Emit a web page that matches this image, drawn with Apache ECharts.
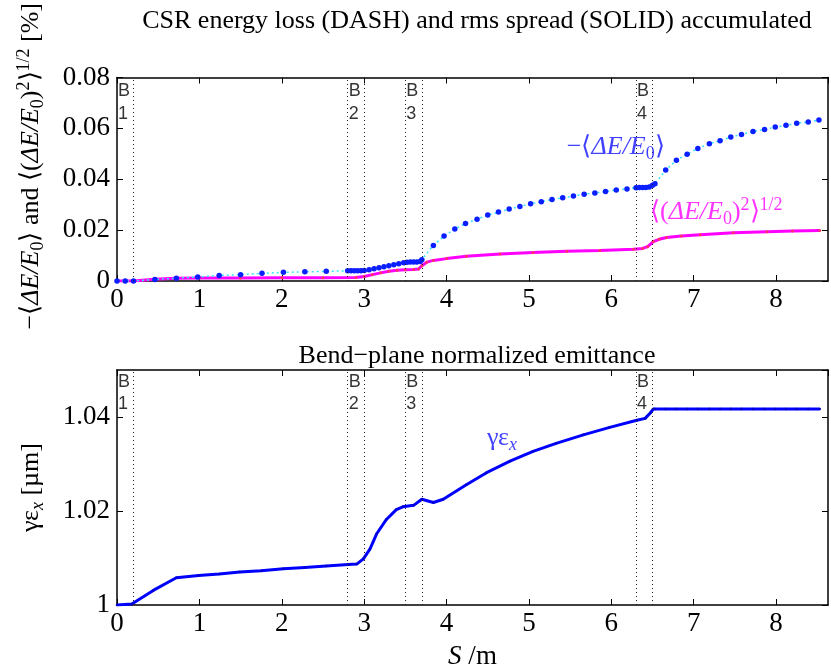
<!DOCTYPE html>
<html><head><meta charset="utf-8">
<script src="https://cdn.jsdelivr.net/npm/echarts@6/dist/echarts.min.js"></script>
<style>html,body{margin:0;padding:0;background:#fff}#c{width:831px;height:671px}</style>
</head><body><div id="c"></div>
<script>
// ---- data ----
const sLoss = [0,0.1,0.2,0.46,0.72,0.98,1.24,1.50,1.76,2.02,2.28,2.54,2.80,2.84,2.88,2.92,2.96,3.00,3.06,3.12,3.18,3.24,3.30,3.36,3.42,3.48,3.52,3.56,3.60,3.64,3.68,3.70,3.84,3.97,4.10,4.23,4.37,4.50,4.63,4.76,4.89,5.02,5.15,5.28,5.41,5.54,5.67,5.80,5.93,6.06,6.19,6.30,6.34,6.38,6.42,6.46,6.50,6.53,6.66,6.79,6.92,7.05,7.19,7.32,7.45,7.58,7.72,7.86,7.99,8.12,8.25,8.39,8.52];
const lossVals = [0,0,0,0.0006,0.0011,0.0016,0.0022,0.0025,0.0030,0.0034,0.0036,0.0038,0.0040,0.0040,0.0040,0.0040,0.0040,0.0041,0.0044,0.0048,0.0052,0.0056,0.0060,0.0064,0.0068,0.0072,0.0074,0.0075,0.0075,0.0075,0.0077,0.0084,0.0140,0.0177,0.0204,0.0226,0.0243,0.0259,0.0271,0.0283,0.0293,0.0304,0.0312,0.0320,0.0327,0.0334,0.0341,0.0346,0.0352,0.0358,0.0362,0.0367,0.0368,0.0368,0.0368,0.0370,0.0376,0.0382,0.0436,0.0475,0.0498,0.0521,0.0540,0.0551,0.0566,0.0576,0.0588,0.0596,0.0605,0.0612,0.0620,0.0625,0.0633];

const sRms = [0,0.2,0.45,0.72,1.0,1.5,2.0,2.5,2.9,3.0,3.1,3.2,3.3,3.4,3.5,3.6,3.66,3.70,3.76,3.84,4.0,4.24,4.65,5.05,5.46,5.86,6.27,6.38,6.44,6.51,6.58,6.67,6.85,7.08,7.48,7.89,8.2,8.53];
const rmsVals = [0,0,0.0007,0.0011,0.0012,0.0012,0.0013,0.0013,0.0014,0.0018,0.0025,0.0032,0.0038,0.0042,0.0044,0.0045,0.0047,0.0060,0.0074,0.0081,0.0088,0.0097,0.0106,0.0112,0.0117,0.0120,0.0125,0.0128,0.0135,0.0155,0.0164,0.0171,0.0177,0.0182,0.0190,0.0194,0.0197,0.0199];

const sEmit = [0,0.18,0.44,0.72,0.99,1.24,1.49,1.75,2.02,2.28,2.54,2.81,2.91,2.99,3.07,3.15,3.27,3.39,3.47,3.60,3.70,3.84,3.96,4.24,4.48,4.77,5.05,5.33,5.66,5.98,6.31,6.41,6.47,6.51,6.53,6.66,6.79,6.92,7.05,7.19,7.32,7.45,7.58,7.72,7.86,7.99,8.12,8.25,8.39,8.53];
const emitVals = [1.0000,1.0002,1.0031,1.0058,1.0063,1.0066,1.0070,1.0073,1.0077,1.0080,1.0083,1.0086,1.0087,1.0098,1.0119,1.0151,1.0182,1.0203,1.0209,1.0212,1.0225,1.0218,1.0225,1.0256,1.0281,1.0306,1.0327,1.0344,1.0362,1.0378,1.0393,1.0397,1.0408,1.0417,1.0417,1.0417,1.0417,1.0417,1.0417,1.0417,1.0417,1.0417,1.0417,1.0417,1.0417,1.0417,1.0417,1.0417,1.0417,1.0417];

const bendEdges = [0.2,2.8,3.0,3.5,3.7,6.3,6.5];
const bendStarts = [0,2.8,3.5,6.3];
const bendNames = ['1','2','3','4'];
const xTicks = [0,1,2,3,4,5,6,7,8];
const titles = ['CSR energy loss (DASH) and rms spread (SOLID) accumulated','Bend\u2212plane normalized emittance'];

// ---- build ----
const zip = (a,b) => a.map((v,i)=>[v,b[i]]);
const SERIF = "'Liberation Serif','Times New Roman',serif";
const SANS = "'Liberation Sans',Arial,sans-serif";
const XMAX = 8.63;

function richStyles(color, size){
  const s2 = Math.round(size*0.68);
  return {
    n:{fontFamily:SERIF,fontSize:size,color:color,lineHeight:size+6},
    i:{fontFamily:SERIF,fontStyle:'italic',fontSize:size,color:color,lineHeight:size+6},
    sub:{fontFamily:SERIF,fontSize:s2,color:color,lineHeight:s2,verticalAlign:'bottom'},
    subi:{fontFamily:SERIF,fontStyle:'italic',fontSize:s2,color:color,lineHeight:s2,verticalAlign:'bottom'},
    sup:{fontFamily:SERIF,fontSize:s2,color:color,lineHeight:s2,verticalAlign:'top'}
  };
}

function xAx(grid, pos, showLabel, name){
  const a = {
    type:'value', gridIndex:grid, position:pos, min:0, max:XMAX, interval:1,
    axisLine:{show:true,onZero:false,lineStyle:{color:'#000',width:1.5}},
    axisTick:{show:true,inside:true,length:6,lineStyle:{color:'#000',width:1}},
    axisLabel:{show:showLabel,fontFamily:SERIF,fontSize:27,color:'#000',margin:5,showMaxLabel:false,
      formatter:v=> xTicks.includes(Math.round(v*1000)/1000) ? String(Math.round(v)) : ''},
    splitLine:{show:false}
  };
  if(name){
    a.name = '{i|S}{n| /m}';
    a.nameLocation='middle'; a.nameGap=35;
    a.nameTextStyle={rich:richStyles('#000',27)};
  }
  return a;
}
function yAx(grid,pos,min,max,fmt,showLabel,name,gap,pad){
  const a = {
    type:'value', gridIndex:grid, position:pos, min:min, max:max, interval:0.02,
    axisLine:{show:true,onZero:false,lineStyle:{color:'#000',width:1.5}},
    axisTick:{show:true,inside:true,length:6,lineStyle:{color:'#000',width:1}},
    axisLabel:{show:showLabel,fontFamily:SERIF,fontSize:27,color:'#000',margin:7,showMaxLabel:grid===0,formatter:fmt},
    splitLine:{show:false}
  };
  if(name){
    a.name=name; a.nameLocation='middle'; a.nameGap=gap; a.nameRotate=90;
    a.nameTextStyle={rich:richStyles('#000',26),padding:pad||0};
  }
  return a;
}

const fmtTop = v => Math.abs(v)<1e-9 ? '0' : v.toFixed(2);
const fmtBot = v => { if(Math.abs(v-1)<1e-9) return '1'; const k=Math.round((v-1)/0.02); return Math.abs(v-1-k*0.02)<1e-6 ? v.toFixed(2):''; };

const topName = '{n|\u2212\u27E8}{i|\u0394E/E}{sub|0}{n|\u27E9 and \u27E8(}{i|\u0394E/E}{sub|0}{n|)}{sup|2}{n|\u27E9}{sup|1/2}{n| [%]}';
const botName = '{n|\u03B3\u03B5}{subi|x}{n| [\u00B5m]}';

function bendSeries(grid, yTop, lh, dy){
  return {
    type:'scatter', xAxisIndex:grid*2, yAxisIndex:grid*2, symbolSize:0, clip:false, silent:true,
    data: bendStarts.map(s=>[s,yTop]),
    label:{show:true,position:[1,dy],align:'left',verticalAlign:'top',fontFamily:SANS,fontSize:18,color:'#000',lineHeight:lh,
      formatter:p=>'B\n'+bendNames[p.dataIndex]},
    markLine:{silent:true,symbol:'none',animation:false,label:{show:false},
      lineStyle:{color:'#222',width:1,type:[1,3]},
      data: bendEdges.map(s=>({xAxis:s}))},
    z:1
  };
}
function textSeries(grid, x, y, text, color){
  return {
    type:'scatter', xAxisIndex:grid*2, yAxisIndex:grid*2, symbolSize:0, clip:false, silent:true,
    data:[[x,y]],
    label:{show:true,position:[0,0],align:'left',verticalAlign:'middle',formatter:text,rich:richStyles(color,26)},
    z:5
  };
}

const option = {
  animation:false,
  backgroundColor:'#fff',
  title:[
    {text:titles[0],left:472,top:3,textAlign:'center',textStyle:{fontFamily:SERIF,fontSize:26,fontWeight:'normal',color:'#000'}},
    {text:titles[1],left:472,top:338,textAlign:'center',textStyle:{fontFamily:SERIF,fontSize:26,fontWeight:'normal',color:'#000'}}
  ],
  grid:[
    {left:117,right:3,top:43,height:238},
    {left:117,right:3,top:370,height:238}
  ],
  xAxis:[ xAx(0,'bottom',true), xAx(0,'top',false), xAx(1,'bottom',true,true), xAx(1,'top',false) ],
  yAxis:[
    yAx(0,'left',0,0.08,fmtTop,true,topName,70,[0,0,0,26]),
    yAx(0,'right',0,0.08,fmtTop,false),
    yAx(1,'left',1,1.05,fmtBot,true,botName,70),
    yAx(1,'right',1,1.05,fmtBot,false)
  ],
  series:[
    bendSeries(0,0.08,23,2),
    bendSeries(1,1.05,22,1),
    {type:'line',xAxisIndex:0,yAxisIndex:0,data:zip(sRms,rmsVals),symbol:'circle',symbolSize:3,showAllSymbol:true,
      itemStyle:{color:'#ff3366'},lineStyle:{color:'#ff00ff',width:3},z:3},
    {type:'line',xAxisIndex:0,yAxisIndex:0,data:zip(sLoss,lossVals),symbol:'circle',symbolSize:5.5,showAllSymbol:true,
      itemStyle:{color:'#0a1eff'},lineStyle:{color:'#33e6ff',width:1.5,type:[2,3]},z:4},
    {type:'line',xAxisIndex:2,yAxisIndex:2,data:zip(sEmit,emitVals),symbol:'circle',symbolSize:2.5,showAllSymbol:true,
      itemStyle:{color:'#0000c8'},lineStyle:{color:'#0000ff',width:3},z:3},
    textSeries(0,5.46,0.0525,'{n|\u2212\u27E8}{i|\u0394E/E}{sub|0}{n|\u27E9}','#1010ff'),
    textSeries(0,6.47,0.0272,'{n|\u27E8(}{i|\u0394E/E}{sub|0}{n|)}{sup|2}{n|\u27E9}{sup|1/2}','#ff00ff'),
    textSeries(1,4.49,1.0355,'{n|\u03B3\u03B5}{subi|x}','#1010ff')
  ]
};
echarts.init(document.getElementById('c'),null,{renderer:'canvas'}).setOption(option);
</script></body></html>
